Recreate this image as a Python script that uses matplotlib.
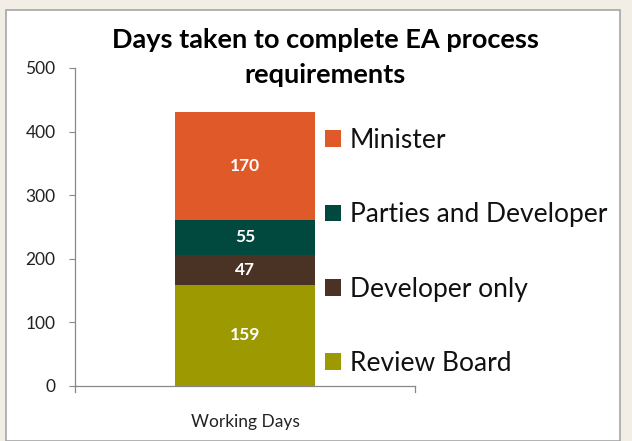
import matplotlib.pyplot as plt
from matplotlib.patches import Rectangle

categories = ['Working Days']
series = ['Review Board', 'Developer only', 'Parties and Developer', 'Minister']
values = [159, 47, 55, 170]
colors = ['#9C9A00', '#4A3225', '#01493F', '#E05A29']
yticks = [0, 100, 200, 300, 400, 500]

plt.rcParams['font.family'] = ['Lato', 'DejaVu Sans']

fig = plt.figure(figsize=(6.32, 4.41), dpi=100)
fig.patch.set_facecolor('#F2EEE5')
# white chart panel
fig.patches.append(Rectangle((6 / 632, 0), 614 / 632, 431 / 441, transform=fig.transFigure,
                             facecolor='white', edgecolor='#A6A6A6', linewidth=1.2, zorder=-5))

ax = fig.add_axes([75 / 632, 55 / 441, 340 / 632, 318 / 441])
ax.set_facecolor('none')
ax.set_zorder(2)

bottom = 0
bars = []
for name, val, col in zip(series, values, colors):
    b = ax.bar(0, val, width=0.41, bottom=bottom, color=col, label=name, zorder=2)
    ax.text(0, bottom + val / 2, str(val), ha='center', va='center', color='white',
            fontsize=12.5, fontweight='bold', zorder=3)
    bars.append(b)
    bottom += val

ax.set_xlim(-0.5, 0.5)
ax.set_ylim(0, 500)
ax.set_yticks(yticks)
ax.set_xticks([0])
ax.set_xticklabels(categories)
ax.tick_params(axis='x', length=0, pad=20, labelsize=12.5, colors='#222222')
ax.tick_params(axis='y', length=4, width=0.8, color='#888888', labelsize=12.5, labelcolor='#222222', pad=10)
for s in ['top', 'right']:
    ax.spines[s].set_visible(False)
for s in ['left', 'bottom']:
    ax.spines[s].set_color('#888888')
    ax.spines[s].set_linewidth(0.9)
# small end ticks on x-axis
for xe in [-0.5, 0.5]:
    ax.plot([xe, xe], [0, -9], color='#888888', linewidth=0.9, clip_on=False)

fig.text(325 / 632, 1 - 40 / 441, 'Days taken to complete EA process', ha='center', va='center',
         fontsize=19.5, fontweight='bold', color='black')
fig.text(325 / 632, 1 - 75 / 441, 'requirements', ha='center', va='center',
         fontsize=19.5, fontweight='bold', color='black')

handles = bars[::-1]
labels = series[::-1]
fig.legend(handles, labels, loc='upper left', bbox_to_anchor=(325 / 632, 1 - 128 / 441),
           frameon=False, fontsize=19, labelspacing=1.87, handlelength=0.6, handleheight=0.6,
           handletextpad=0.35, borderpad=0, borderaxespad=0, labelcolor='#111111')

fig.savefig('out.png', dpi=100, facecolor=fig.get_facecolor())
